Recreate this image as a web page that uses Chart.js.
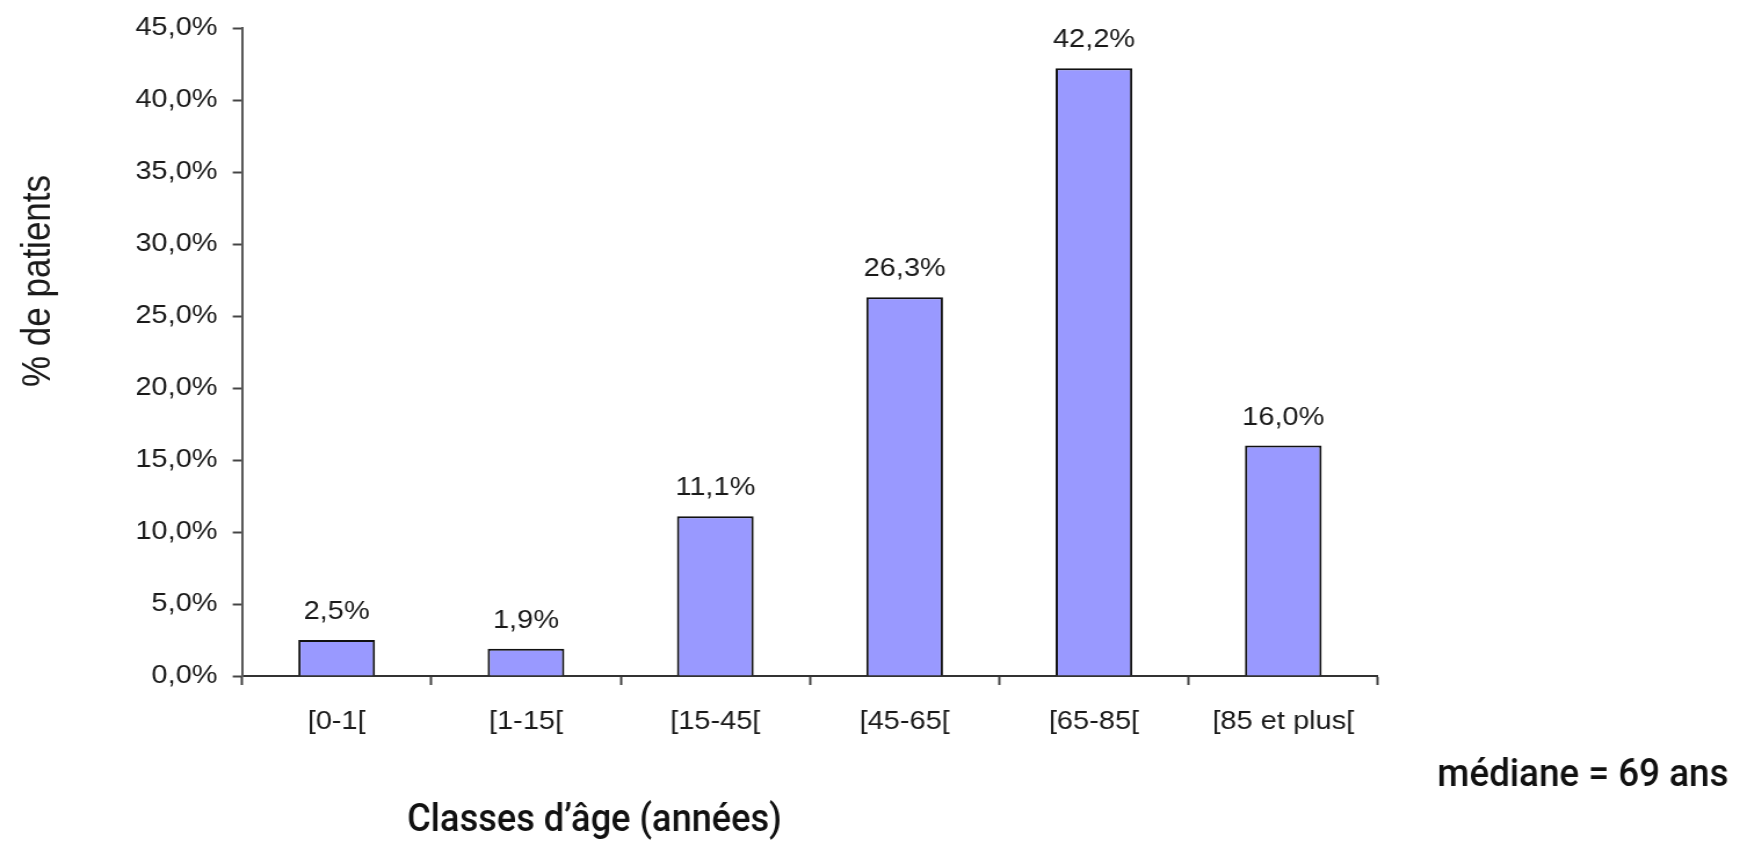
<!DOCTYPE html>
<html lang="fr">
<head>
<meta charset="utf-8">
<title>Répartition des patients par classe d'âge</title>
<script src="https://cdn.jsdelivr.net/npm/chart.js@4.4.1/dist/chart.umd.min.js"></script>
<style>
  html, body { margin: 0; padding: 0; background: #ffffff; overflow: hidden; }
  body { width: 1739px; height: 841px; position: relative; }
  /* the chart is laid out on a narrower canvas and widened horizontally */
  #wrap {
    position: absolute; left: 0; top: 0;
    width: 1499px; height: 841px;
    transform: scaleX(1.16); transform-origin: 0 0;
  }
  #chart { display: block; }
</style>
</head>
<body>
<div id="wrap"><canvas id="chart"></canvas></div>
<script>
// Age classes and share of patients (%)
const categories = ['[0-1[', '[1-15[', '[15-45[', '[45-65[', '[65-85[', '[85 et plus['];
const patientShare = [2.5, 1.9, 11.1, 26.3, 42.2, 16.0];
const yTickValues = [0, 5, 10, 15, 20, 25, 30, 35, 40, 45];

const yAxisTitle = '% de patients';
const xAxisTitle = 'Classes d’âge (années)';
const medianNote = 'médiane = 69 ans';

const CANVAS_W = 1499;
const CANVAS_H = 841;
const PLOT_LEFT = 208.6;
const PLOT_RIGHT = 1187.9;
const PLOT_TOP = 26;
const PLOT_BOTTOM = 676;

const chartFont = '"Liberation Sans", Arial, "Noto Sans", sans-serif';
const noteFont = 'Roboto, "Liberation Sans", sans-serif';
const textColor = '#1a1a1a';

const fmtPct = v => v.toFixed(1).replace('.', ',') + '%';

// value labels above each bar
const barValueLabels = {
  id: 'barValueLabels',
  afterDatasetsDraw(chart) {
    const ctx = chart.ctx;
    const meta = chart.getDatasetMeta(0);
    ctx.save();
    ctx.font = '25px ' + chartFont;
    ctx.fillStyle = textColor;
    ctx.textAlign = 'center';
    ctx.textBaseline = 'alphabetic';
    meta.data.forEach((bar, i) => {
      ctx.fillText(fmtPct(patientShare[i]), bar.x, bar.y - 21);
    });
    ctx.restore();
  }
};

// condensed note text: drawn with a horizontal squeeze to a set width
function drawCondensed(ctx, text, x, y, width) {
  const natural = ctx.measureText(text).width;
  ctx.save();
  ctx.translate(x, y);
  ctx.scale(width / natural, 1);
  ctx.fillText(text, 0, 0);
  ctx.restore();
}

// axis titles and the median note
const chartNotes = {
  id: 'chartNotes',
  afterDraw(chart) {
    const ctx = chart.ctx;
    ctx.save();
    ctx.fillStyle = textColor;

    ctx.save();
    ctx.translate(33, 281);
    ctx.rotate(-Math.PI / 2);
    ctx.font = '35px ' + chartFont;
    ctx.textAlign = 'center';
    ctx.textBaseline = 'middle';
    ctx.fillText(yAxisTitle, 0, 0);
    ctx.restore();

    ctx.fillStyle = '#111111';
    ctx.font = '500 38px ' + noteFont;
    ctx.textAlign = 'left';
    ctx.textBaseline = 'alphabetic';
    drawCondensed(ctx, xAxisTitle, 351, 831, 323);
    drawCondensed(ctx, medianNote, 1239, 786, 251);
    ctx.restore();
  }
};

new Chart(document.getElementById('chart'), {
  type: 'bar',
  data: {
    labels: categories,
    datasets: [{
      data: patientShare,
      backgroundColor: '#9999ff',
      borderColor: '#111111',
      borderWidth: 2,
      borderSkipped: 'bottom',
      barPercentage: 0.405,
      categoryPercentage: 1.0
    }]
  },
  options: {
    responsive: true,
    maintainAspectRatio: false,
    animation: false,
    events: [],
    layout: {
      padding: { top: PLOT_TOP, right: CANVAS_W - PLOT_RIGHT, bottom: 0, left: 0 }
    },
    plugins: {
      legend: { display: false },
      tooltip: { enabled: false },
      title: { display: false }
    },
    scales: {
      x: {
        type: 'category',
        offset: true,
        grid: {
          offset: true,
          drawOnChartArea: false,
          drawTicks: true,
          tickLength: 9,
          tickWidth: 2,
          tickColor: '#444444'
        },
        border: { display: true, color: '#333333', width: 2 },
        ticks: {
          color: textColor,
          font: { family: chartFont, size: 25 },
          padding: 22,
          maxRotation: 0,
          minRotation: 0,
          autoSkip: false
        },
        afterFit(scale) { scale.height = CANVAS_H - PLOT_BOTTOM; }
      },
      y: {
        min: 0,
        max: 45,
        afterBuildTicks(scale) {
          scale.ticks = yTickValues.map(v => ({ value: v }));
        },
        grid: {
          drawOnChartArea: false,
          drawTicks: true,
          tickLength: 8,
          tickWidth: 2,
          tickColor: '#444444'
        },
        border: { display: true, color: '#5a5a5a', width: 2 },
        ticks: {
          color: textColor,
          font: { family: chartFont, size: 25 },
          padding: 13,
          callback: v => fmtPct(v)
        },
        afterFit(scale) { scale.width = PLOT_LEFT; }
      }
    }
  },
  plugins: [barValueLabels, chartNotes]
});
</script>
</body>
</html>
